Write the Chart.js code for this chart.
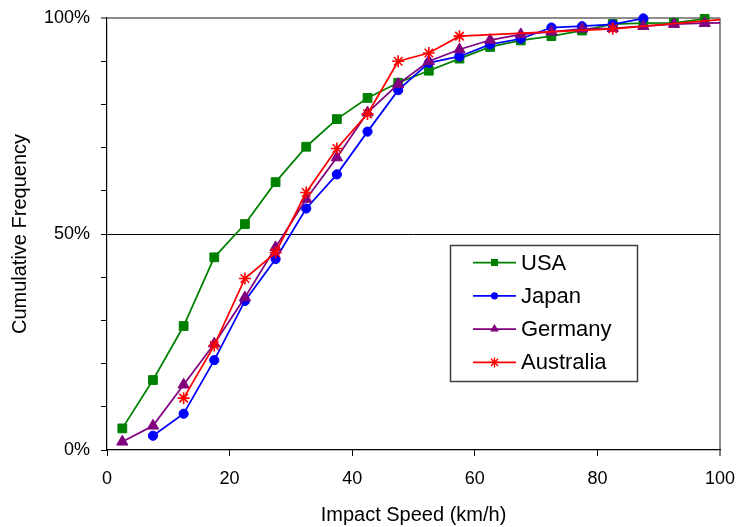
<!DOCTYPE html>
<html>
<head>
<meta charset="utf-8">
<script src="https://cdn.jsdelivr.net/npm/chart.js@4/dist/chart.umd.min.js"></script>
<style>
  body { margin: 0; background: #fff; }
  #wrap { width: 736px; height: 527px; }
</style>
</head>
<body>
<div id="wrap"><canvas id="chart" width="736" height="527"></canvas></div>
<script>
// impact speed bins (km/h, bin centres)
const speeds = [2.5, 7.5, 12.5, 17.5, 22.5, 27.5, 32.5, 37.5, 42.5, 47.5,
                52.5, 57.5, 62.5, 67.5, 72.5, 77.5, 82.5, 87.5, 92.5, 97.5];

const usaValues = [5.0, 16.2, 28.7, 44.6, 52.3, 62.0, 70.2, 76.6, 81.5, 85.0,
                   87.8, 90.6, 93.3, 94.8, 95.8, 97.1, 98.6, 98.8, 98.9, 99.8];

const japanSpeeds = speeds.slice(1, 18);
const japanValues = [3.3, 8.4, 20.8, 34.5, 44.2, 55.9, 63.8, 73.7, 83.3,
                     89.6, 91.1, 93.9, 95.2, 97.8, 98.1, 98.5, 99.9];

const germanySpeeds = speeds.concat([102.5]);
const germanyValues = [1.9, 5.6, 15.1, 24.6, 35.3, 46.9, 58.1, 67.7, 78.1, 84.7,
                       90.0, 92.7, 94.9, 96.2, 96.8, 97.5, 97.6, 98.1, 98.6, 98.8, 99.0];

const australiaSpeeds = [12.5, 17.5, 22.5, 27.5, 32.5, 37.5, 42.5, 47.5, 52.5, 57.5, 82.5, 102.5];
const australiaValues = [12.0, 24.2, 39.7, 45.7, 59.6, 69.8, 77.8, 90.0, 91.9, 95.8, 97.5, 99.9];

const xTicks = [0, 20, 40, 60, 80, 100];
const yLabelTicks = [0, 50, 100];

const toPoints = (xs, ys) => xs.map((x, i) => ({ x: x, y: ys[i] }));

const FONT = "'Liberation Sans', Arial, sans-serif";

const seriesDefs = [
  { label: 'USA', color: '#008000', style: 'rect', r: 6.2, data: toPoints(speeds, usaValues), order: 4 },
  { label: 'Japan', color: '#0000ff', style: 'circle', r: 4.6, data: toPoints(japanSpeeds, japanValues), order: 3 },
  { label: 'Germany', color: '#800080', style: 'triangle', r: 6.5, data: toPoints(germanySpeeds, germanyValues), order: 2 },
  { label: 'Australia', color: '#ff0000', style: 'star', r: 6, data: toPoints(australiaSpeeds, australiaValues), order: 1 }
];

const datasets = seriesDefs.map(s => ({
  label: s.label,
  data: s.data,
  showLine: true,
  borderColor: s.color,
  backgroundColor: s.color,
  borderWidth: 1.75,
  pointStyle: s.style,
  pointRadius: s.r,
  pointBorderWidth: s.style === 'star' ? 1.6 : 1,
  pointBorderColor: s.color,
  pointBackgroundColor: s.color,
  tension: 0,
  order: s.order,
  clip: { left: 10, top: 10, right: 0, bottom: 10 }
}));

function drawMarker(ctx, style, x, y, r, color) {
  ctx.save();
  ctx.fillStyle = color;
  ctx.strokeStyle = color;
  ctx.lineWidth = 1;
  ctx.beginPath();
  if (style === 'rect') {
    const h = r * Math.SQRT1_2;
    ctx.rect(x - h, y - h, 2 * h, 2 * h);
    ctx.fill();
  } else if (style === 'circle') {
    ctx.arc(x, y, r, 0, Math.PI * 2);
    ctx.fill();
  } else if (style === 'triangle') {
    ctx.moveTo(x, y - r);
    ctx.lineTo(x + r * 0.866, y + r * 0.5);
    ctx.lineTo(x - r * 0.866, y + r * 0.5);
    ctx.closePath();
    ctx.fill();
  } else if (style === 'star') {
    ctx.lineWidth = 1.4;
    ctx.moveTo(x - r, y); ctx.lineTo(x + r, y);
    ctx.moveTo(x, y - r); ctx.lineTo(x, y + r);
    const d = r * Math.SQRT1_2;
    ctx.moveTo(x - d, y - d); ctx.lineTo(x + d, y + d);
    ctx.moveTo(x - d, y + d); ctx.lineTo(x + d, y - d);
    ctx.stroke();
  }
  ctx.restore();
}

// legend box sitting inside the plot, like the original
const boxLegend = {
  id: 'boxLegend',
  afterDatasetsDraw(chart) {
    const ctx = chart.ctx;
    const left = 450, top = 245, w = 187, h = 136;
    ctx.save();
    ctx.fillStyle = '#fff';
    ctx.fillRect(left, top, w, h);
    ctx.strokeStyle = '#404040';
    ctx.lineWidth = 1.5;
    ctx.strokeRect(left + 0.5, top + 0.5, w, h);
    ctx.font = '22px ' + FONT;
    ctx.textBaseline = 'middle';
    seriesDefs.forEach((s, i) => {
      const y = 262.5 + i * 33.3;
      ctx.strokeStyle = s.color;
      ctx.lineWidth = 1.75;
      ctx.beginPath();
      ctx.moveTo(473, y);
      ctx.lineTo(516, y);
      ctx.stroke();
      const r = s.style === 'circle' ? 3.6 : 5;
      drawMarker(ctx, s.style, 494.5, y, r, s.color);
      ctx.fillStyle = '#000';
      ctx.fillText(s.label, 521, y + 1);
    });
    ctx.restore();
  }
};

// keep the plot box fixed: no automatic room for overhanging labels
const noOverhang = scale => {
  scale.paddingLeft = 0;
  scale.paddingRight = 0;
  scale.paddingTop = 0;
  scale.paddingBottom = 0;
};

new Chart(document.getElementById('chart'), {
  type: 'scatter',
  data: { datasets: datasets },
  plugins: [boxLegend],
  options: {
    responsive: false,
    animation: false,
    events: [],
    layout: { padding: { top: 18, right: 16, left: 0, bottom: 0 } },
    plugins: {
      legend: { display: false },
      tooltip: { enabled: false }
    },
    scales: {
      x: {
        type: 'linear',
        min: 0,
        max: 100,
        afterFit: scale => { scale.height = 77; noOverhang(scale); },
        afterBuildTicks: scale => { scale.ticks = xTicks.map(v => ({ value: v })); },
        border: { color: '#000', width: 1.2 },
        grid: {
          color: c => c.tick && c.tick.value === 100 ? '#8c8c8c' : 'rgba(0,0,0,0)',
          lineWidth: c => c.tick && c.tick.value === 100 ? 2 : 1,
          tickColor: '#000',
          tickWidth: 1,
          tickLength: 6
        },
        ticks: {
          color: '#000',
          font: { size: 18, family: FONT },
          padding: 12,
          maxRotation: 0
        },
        title: {
          display: true,
          text: 'Impact Speed (km/h)',
          color: '#000',
          font: { size: 20, family: FONT },
          padding: { top: 0, bottom: 0 }
        }
      },
      y: {
        type: 'linear',
        min: 0,
        max: 100,
        afterFit: scale => { scale.width = 107; noOverhang(scale); },
        ticks: {
          stepSize: 10,
          color: '#000',
          font: { size: 18, family: FONT },
          padding: 11,
          autoSkip: false,
          callback: v => yLabelTicks.includes(v) ? v + '%' : ''
        },
        border: { color: '#000', width: 1.2 },
        grid: {
          color: c => {
            if (!c.tick) return 'rgba(0,0,0,0)';
            if (c.tick.value === 50) return '#000';
            if (c.tick.value === 100) return '#8c8c8c';
            return 'rgba(0,0,0,0)';
          },
          lineWidth: c => c.tick && c.tick.value === 100 ? 2 : 1,
          tickColor: '#000',
          tickWidth: 1,
          tickLength: 6
        },
        title: {
          display: true,
          text: 'Cumulative Frequency',
          color: '#000',
          font: { size: 20, family: FONT },
          padding: { top: 8, bottom: 0 }
        }
      }
    }
  }
});
</script>
</body>
</html>
